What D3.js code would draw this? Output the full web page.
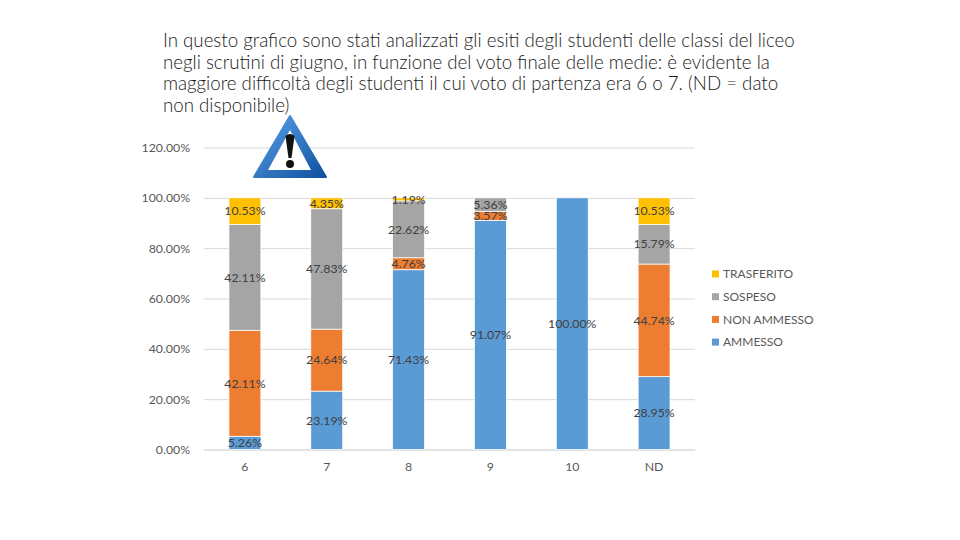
<!DOCTYPE html>
<html>
<head>
<meta charset="utf-8">
<script src="https://cdn.jsdelivr.net/npm/d3@7"></script>
<style>
  html, body { margin: 0; padding: 0; background: #fff; }
  svg { display: block; }
  text { font-family: Lato, "Open Sans", sans-serif; }
</style>
</head>
<body>
<div id="chart"></div>
<script>
// chart data
let categories = ["6", "7", "8", "9", "10", "ND"];
let ammesso = [5.26, 23.19, 71.43, 91.07, 100, 28.95];
let nonAmmesso = [42.11, 24.64, 4.76, 3.57, 0, 44.74];
let sospeso = [42.11, 47.83, 22.62, 5.36, 0, 15.79];
let trasferito = [10.53, 4.35, 1.19, 0, 0, 10.53];
let seriesNames = ["AMMESSO", "NON AMMESSO", "SOSPESO", "TRASFERITO"];
let seriesColors = ["#5b9bd5", "#ed7d31", "#a5a5a5", "#ffc000"];
let yTicks = [0, 20, 40, 60, 80, 100, 120];
let titleLines = [
  "In questo grafico sono stati analizzati gli esiti degli studenti delle classi del liceo",
  "negli scrutini di giugno, in funzione del voto finale delle medie: è evidente la",
  "maggiore difficoltà degli studenti il cui voto di partenza era 6 o 7. (ND = dato",
  "non disponibile)"
];

let width = 960;
let height = 540;

// plot area
let margin = { top: 147.5, right: 265, bottom: 90.5, left: 204 };
let intActiveWid = width - margin.left - margin.right;
let intActiveHgt = height - margin.top - margin.bottom;

let svg = d3.select("#chart")
  .append("svg")
  .attr("width", width)
  .attr("height", height);

// title
svg.append("g").selectAll("text")
  .data(titleLines)
  .enter()
  .append("text")
  .attr("x", 163)
  .attr("y", (d, i) => 47 + i * 21.7)
  .attr("font-size", 18.7)
  .attr("font-weight", 300)
  .attr("fill", "#1a1a1a")
  .text(d => d);

let g = svg.append("g")
  .attr("transform", `translate(${margin.left}, ${margin.top})`);

// scales
let fnXScale = d3.scaleBand()
  .domain(categories)
  .range([0, intActiveWid])
  .paddingInner(0.61)
  .paddingOuter(0.305);

let fnYScale = d3.scaleLinear()
  .domain([0, 120])
  .range([intActiveHgt, 0]);

// axes
let fnYAxis = d3.axisLeft(fnYScale)
  .tickValues(yTicks)
  .tickSize(-intActiveWid)
  .tickPadding(14)
  .tickFormat(d => d.toFixed(2) + "%");

let yAxis = g.append("g").call(fnYAxis);
yAxis.select(".domain").remove();
yAxis.selectAll("line").attr("stroke", "#d9d9d9");
yAxis.selectAll("text")
  .attr("font-size", 12.3)
  .attr("fill", "#595959")
  .style("font-family", "Lato, sans-serif");

let fnXAxis = d3.axisBottom(fnXScale)
  .tickSize(0)
  .tickPadding(13);

let xAxis = g.append("g")
  .attr("transform", `translate(0, ${intActiveHgt})`)
  .call(fnXAxis);
xAxis.select(".domain").attr("stroke", "#d9d9d9");
xAxis.selectAll("text")
  .attr("font-size", 12.3)
  .attr("fill", "#595959")
  .style("font-family", "Lato, sans-serif");

// stacked bars
let rows = categories.map((c, i) => ({
  cat: c,
  AMMESSO: ammesso[i],
  "NON AMMESSO": nonAmmesso[i],
  SOSPESO: sospeso[i],
  TRASFERITO: trasferito[i]
}));
let stacked = d3.stack().keys(seriesNames)(rows);

let layers = g.selectAll(".layer")
  .data(stacked)
  .enter()
  .append("g")
  .attr("class", "layer")
  .attr("fill", (d, i) => seriesColors[i]);

layers.selectAll("rect")
  .data(d => d.filter(p => p[1] > p[0]))
  .enter()
  .append("rect")
  .attr("x", d => fnXScale(d.data.cat))
  .attr("width", fnXScale.bandwidth())
  .attr("y", d => fnYScale(d[1]))
  .attr("height", d => fnYScale(d[0]) - fnYScale(d[1]))
  .attr("stroke", "#fff")
  .attr("stroke-width", 0.75);

// data labels go on top of all bars
let labelData = stacked.flatMap(layer => layer.filter(p => p[1] > p[0]));
g.append("g").selectAll("text")
  .data(labelData)
  .enter()
  .append("text")
  .attr("x", d => fnXScale(d.data.cat) + fnXScale.bandwidth() / 2)
  .attr("y", d => fnYScale((d[0] + d[1]) / 2))
  .attr("dy", "0.35em")
  .attr("text-anchor", "middle")
  .attr("font-size", 12.3)
  .attr("fill", "#404040")
  .text(d => (d[1] - d[0]).toFixed(2) + "%");

// legend
let legendNames = seriesNames.slice().reverse();
let legendColors = seriesColors.slice().reverse();
let legend = svg.append("g").selectAll("g")
  .data(legendNames)
  .enter()
  .append("g")
  .attr("transform", (d, i) => `translate(712, ${274 + i * 22.7})`);
legend.append("rect")
  .attr("y", -3.5)
  .attr("width", 7)
  .attr("height", 7)
  .attr("fill", (d, i) => legendColors[i]);
legend.append("text")
  .attr("x", 11)
  .attr("dy", "0.35em")
  .attr("font-size", 12)
  .attr("fill", "#595959")
  .text(d => d);

// warning icon
let defs = svg.append("defs");
let grad = defs.append("linearGradient")
  .attr("id", "warnGrad")
  .attr("x1", "0").attr("y1", "0")
  .attr("x2", "1").attr("y2", "1");
grad.append("stop").attr("offset", "0").attr("stop-color", "#5ba3ea");
grad.append("stop").attr("offset", "1").attr("stop-color", "#10509f");

let icon = svg.append("g");
icon.append("path")
  .attr("d", "M290 116 L326 177 L254 177 Z")
  .attr("fill", "url(#warnGrad)")
  .attr("stroke", "url(#warnGrad)")
  .attr("stroke-width", 2)
  .attr("stroke-linejoin", "round");
icon.append("path")
  .attr("d", "M290 130 L311 170 L268 170 Z")
  .attr("fill", "#fff");
icon.append("path")
  .attr("d", "M285.5 136 Q290 132 294.5 136 L291.5 158 L288.5 158 Z")
  .attr("fill", "#111");
icon.append("circle")
  .attr("cx", 290)
  .attr("cy", 164)
  .attr("r", 4)
  .attr("fill", "#111");
</script>
</body>
</html>
